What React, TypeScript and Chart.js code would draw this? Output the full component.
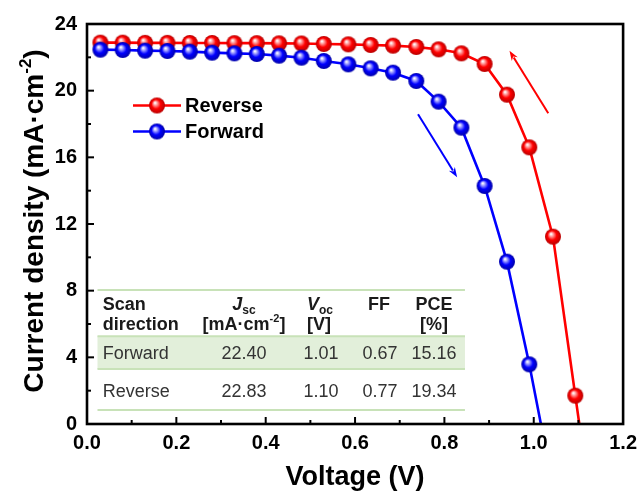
import React, { useEffect, useRef } from "react";
import { Chart, registerables } from "chart.js";

Chart.register(...registerables);

// ---------- data ----------
const reverseVoltage = [0.03, 0.08, 0.13, 0.18, 0.23, 0.28, 0.33, 0.38, 0.43, 0.48, 0.53, 0.585, 0.635, 0.685, 0.737, 0.787, 0.838, 0.89, 0.94, 0.99, 1.043, 1.093, 1.102];
const reverseCurrent = [22.88, 22.88, 22.87, 22.87, 22.86, 22.86, 22.85, 22.85, 22.84, 22.83, 22.8, 22.78, 22.74, 22.7, 22.62, 22.48, 22.24, 21.6, 19.76, 16.6, 11.24, 1.7, 0];
const forwardVoltage = [0.03, 0.08, 0.13, 0.18, 0.23, 0.28, 0.33, 0.38, 0.43, 0.48, 0.53, 0.585, 0.635, 0.685, 0.737, 0.787, 0.838, 0.89, 0.94, 0.99, 1.016];
const forwardCurrent = [22.46, 22.44, 22.4, 22.38, 22.34, 22.28, 22.24, 22.2, 22.1, 21.98, 21.78, 21.58, 21.34, 21.08, 20.58, 19.34, 17.78, 14.28, 9.74, 3.58, 0];

const seriesNames = ["Reverse", "Forward"];
const xTickLabels = ["0.0", "0.2", "0.4", "0.6", "0.8", "1.0", "1.2"];
const yTickLabels = ["0", "4", "8", "12", "16", "20", "24"];

const tableRows = [
  ["Forward", "22.40", "1.01", "0.67", "15.16"],
  ["Reverse", "22.83", "1.10", "0.77", "19.34"],
];

// arrows in data units: [x0, y0, x1, y1] (head at x1,y1)
const reverseArrow = [1.0325, 18.64, 0.9457, 22.4];
const forwardArrow = [0.741, 18.58, 0.8285, 14.8];

const FONT = "'Liberation Sans', Arial, Helvetica, sans-serif";
const RED = "#ff0000";
const BLUE = "#0000ff";

function makeSphere(base: string, light: string, dark: string, r: number) {
  const c = document.createElement("canvas");
  const s = Math.ceil(r * 2) + 2;
  c.width = s;
  c.height = s;
  const g = c.getContext("2d")!;
  const cx = s / 2, cy = s / 2;
  const grad = g.createRadialGradient(cx - r * 0.25, cy - r * 0.35, r * 0.05, cx, cy, r);
  grad.addColorStop(0, "#ffffff");
  grad.addColorStop(0.22, light);
  grad.addColorStop(0.55, base);
  grad.addColorStop(1, dark);
  g.fillStyle = grad;
  g.beginPath();
  g.arc(cx, cy, r, 0, Math.PI * 2);
  g.fill();
  return c;
}

type Run = { t: string; f: string; dy?: number };
function drawRuns(ctx: CanvasRenderingContext2D, runs: Run[], x: number, y: number, align: "left" | "center") {
  let total = 0;
  const ws = runs.map((r) => {
    ctx.font = r.f;
    const w = ctx.measureText(r.t).width;
    total += w;
    return w;
  });
  let cx = align === "center" ? x - total / 2 : x;
  runs.forEach((r, i) => {
    ctx.font = r.f;
    ctx.fillText(r.t, cx, y + (r.dy || 0));
    cx += ws[i];
  });
}

function drawArrow(ctx: CanvasRenderingContext2D, x0: number, y0: number, x1: number, y1: number, color: string) {
  const ang = Math.atan2(y1 - y0, x1 - x0);
  const hl = 10, hw = 3.5;
  ctx.save();
  ctx.strokeStyle = color;
  ctx.fillStyle = color;
  ctx.lineWidth = 2;
  ctx.beginPath();
  ctx.moveTo(x0, y0);
  ctx.lineTo(x1 - Math.cos(ang) * hl * 0.8, y1 - Math.sin(ang) * hl * 0.8);
  ctx.stroke();
  ctx.beginPath();
  ctx.moveTo(x1, y1);
  ctx.lineTo(x1 - Math.cos(ang) * hl - Math.sin(ang) * hw, y1 - Math.sin(ang) * hl + Math.cos(ang) * hw);
  ctx.lineTo(x1 - Math.cos(ang) * hl * 0.7, y1 - Math.sin(ang) * hl * 0.7);
  ctx.lineTo(x1 - Math.cos(ang) * hl + Math.sin(ang) * hw, y1 - Math.sin(ang) * hl - Math.cos(ang) * hw);
  ctx.closePath();
  ctx.fill();
  ctx.restore();
}

export default function App() {
  const ref = useRef<HTMLCanvasElement | null>(null);

  useEffect(() => {
    if (!ref.current) return;
    const redBall = makeSphere(RED, "#ff9a9a", "#b80000", 8);
    const blueBall = makeSphere(BLUE, "#9a9aff", "#0000a8", 8);

    const decor = {
      id: "decor",
      beforeDatasetsDraw(chart: any) {
        const ctx: CanvasRenderingContext2D = chart.ctx;
        const xs = chart.scales.x, ys = chart.scales.y;
        const L = xs.getPixelForValue(0.0235), R = xs.getPixelForValue(0.846);
        const yTop = ys.getPixelForValue(8.04);
        const bandTop = ys.getPixelForValue(5.27);
        const bandBot = ys.getPixelForValue(3.3);
        const yBot = ys.getPixelForValue(0.84);
        ctx.save();
        ctx.fillStyle = "#e2efda";
        ctx.fillRect(L, bandTop, R - L, bandBot - bandTop);
        ctx.strokeStyle = "#c8e2b8";
        ctx.lineWidth = 2;
        [yTop, bandTop, bandBot, yBot].forEach((yy) => {
          ctx.beginPath();
          ctx.moveTo(L, yy);
          ctx.lineTo(R, yy);
          ctx.stroke();
        });
        const bold = `bold 18px ${FONT}`;
        const boldIt = `italic bold 18px ${FONT}`;
        const sub = `bold 12px ${FONT}`;
        const sup = `bold 11px ${FONT}`;
        const reg = `18px ${FONT}`;
        ctx.textBaseline = "alphabetic";
        ctx.fillStyle = "#1a1a1a";
        const colScan = 102.7;
        const colJ = 244, colV = 307, colVval = 321, colFF = 379, colFFval = 380, colPCE = 434;
        const h1 = 310, h2 = 330;
        drawRuns(ctx, [{ t: "Scan", f: bold }], colScan, h1, "left");
        drawRuns(ctx, [{ t: "direction", f: bold }], colScan, h2, "left");
        drawRuns(ctx, [{ t: "J", f: boldIt }, { t: "sc", f: sub, dy: 4 }], colJ, h1, "center");
        drawRuns(ctx, [{ t: "[mA·cm", f: bold }, { t: "-2", f: sup, dy: -8 }, { t: "]", f: bold }], colJ, h2, "center");
        drawRuns(ctx, [{ t: "V", f: boldIt }, { t: "oc", f: sub, dy: 4 }], colV, h1, "left");
        drawRuns(ctx, [{ t: "[V]", f: bold }], colV, h2, "left");
        drawRuns(ctx, [{ t: "FF", f: bold }], colFF, h1, "center");
        drawRuns(ctx, [{ t: "PCE", f: bold }], colPCE, h1, "center");
        drawRuns(ctx, [{ t: "[%]", f: bold }], colPCE, h2, "center");
        ctx.fillStyle = "#333333";
        const rowBase = [359, 396.5];
        tableRows.forEach((row, i) => {
          const yb = rowBase[i];
          drawRuns(ctx, [{ t: row[0], f: reg }], colScan, yb, "left");
          drawRuns(ctx, [{ t: row[1], f: reg }], colJ, yb, "center");
          drawRuns(ctx, [{ t: row[2], f: reg }], colVval, yb, "center");
          drawRuns(ctx, [{ t: row[3], f: reg }], colFFval, yb, "center");
          drawRuns(ctx, [{ t: row[4], f: reg }], colPCE, yb, "center");
        });
        ctx.restore();
      },
      afterDatasetsDraw(chart: any) {
        const ctx: CanvasRenderingContext2D = chart.ctx;
        const a = chart.chartArea;
        const xs = chart.scales.x, ys = chart.scales.y;
        ctx.save();
        // inward ticks
        ctx.strokeStyle = "#000";
        ctx.lineWidth = 2;
        for (let i = 1; i < 12; i++) {
          const v = i / 10;
          const px = xs.getPixelForValue(v);
          const len = i % 2 === 0 ? 7 : 4;
          ctx.beginPath();
          ctx.moveTo(px, a.bottom);
          ctx.lineTo(px, a.bottom - len);
          ctx.stroke();
        }
        for (let v = 2; v < 24; v += 2) {
          const py = ys.getPixelForValue(v);
          const len = v % 4 === 0 ? 7 : 4;
          ctx.beginPath();
          ctx.moveTo(a.left, py);
          ctx.lineTo(a.left + len, py);
          ctx.stroke();
        }
        // frame
        ctx.lineWidth = 2.6;
        ctx.strokeRect(a.left, a.top, a.right - a.left, a.bottom - a.top);

        // arrows
        drawArrow(ctx, xs.getPixelForValue(reverseArrow[0]), ys.getPixelForValue(reverseArrow[1]), xs.getPixelForValue(reverseArrow[2]), ys.getPixelForValue(reverseArrow[3]), RED);
        drawArrow(ctx, xs.getPixelForValue(forwardArrow[0]), ys.getPixelForValue(forwardArrow[1]), xs.getPixelForValue(forwardArrow[2]), ys.getPixelForValue(forwardArrow[3]), BLUE);

        // legend
        const legendItems = [
          { name: seriesNames[0], color: RED, ball: redBall, y: 105.5 },
          { name: seriesNames[1], color: BLUE, ball: blueBall, y: 131.5 },
        ];
        legendItems.forEach((it) => {
          ctx.strokeStyle = it.color;
          ctx.lineWidth = 2.5;
          ctx.beginPath();
          ctx.moveTo(133, it.y);
          ctx.lineTo(181, it.y);
          ctx.stroke();
          ctx.drawImage(it.ball, 157 - it.ball.width / 2, it.y - it.ball.height / 2);
          ctx.fillStyle = "#000";
          ctx.font = `bold 20px ${FONT}`;
          ctx.textBaseline = "middle";
          ctx.textAlign = "left";
          ctx.fillText(it.name, 185, it.y + 1);
        });

        // y axis title
        ctx.save();
        ctx.translate(43, (a.top + a.bottom) / 2 - 3);
        ctx.rotate(-Math.PI / 2);
        ctx.fillStyle = "#000";
        ctx.textBaseline = "alphabetic";
        ctx.textAlign = "left";
        drawRuns(ctx, [
          { t: "Current density (mA·cm", f: `bold 28px ${FONT}` },
          { t: "-2", f: `bold 17px ${FONT}`, dy: -12 },
          { t: ")", f: `bold 28px ${FONT}` },
        ], 0, 0, "center");
        ctx.restore();
        ctx.restore();
      },
    };

    const pr = (n: number) => Array.from({ length: n }, (_, i) => (i === n - 1 ? 0 : 8));

    const chart = new Chart(ref.current, {
      type: "line",
      data: {
        datasets: [
          {
            label: seriesNames[1],
            data: forwardVoltage.map((x, i) => ({ x, y: forwardCurrent[i] })),
            borderColor: BLUE,
            borderWidth: 2.6,
            pointStyle: blueBall as any,
            pointRadius: pr(forwardVoltage.length),
            tension: 0,
            fill: false,
          },
          {
            label: seriesNames[0],
            data: reverseVoltage.map((x, i) => ({ x, y: reverseCurrent[i] })),
            borderColor: RED,
            borderWidth: 2.6,
            pointStyle: redBall as any,
            pointRadius: pr(reverseVoltage.length),
            tension: 0,
            fill: false,
          },
        ],
      },
      options: {
        animation: false,
        responsive: false,
        devicePixelRatio: 1,
        layout: { padding: { left: 0, top: 24, right: 17, bottom: 0 } },
        plugins: { legend: { display: false }, tooltip: { enabled: false } },
        scales: {
          x: {
            type: "linear",
            min: 0,
            max: 1.2,
            afterFit: (s: any) => { s.height = 70; },
            grid: { display: false, drawTicks: false },
            border: { display: false },
            ticks: {
              stepSize: 0.2,
              padding: 7,
              color: "#000",
              maxRotation: 0,
              autoSkip: false,
              font: { family: FONT, size: 20, weight: "bold" },
              callback: (_v: any, i: number) => xTickLabels[i],
            },
            title: {
              display: true,
              text: "Voltage (V)",
              color: "#000",
              font: { family: FONT, size: 27, weight: "bold" },
              padding: { top: 0, bottom: 0 },
            },
          },
          y: {
            type: "linear",
            min: 0,
            max: 24,
            afterFit: (s: any) => { s.width = 87; },
            grid: { display: false, drawTicks: false },
            border: { display: false },
            ticks: {
              stepSize: 4,
              padding: 10,
              color: "#000",
              font: { family: FONT, size: 20, weight: "bold" },
              callback: (_v: any, i: number) => yTickLabels[i],
            },
          },
        },
      },
      plugins: [decor],
    } as any);
    return () => chart.destroy();
  }, []);

  return (
    <div style={{ position: "absolute", left: 0, top: 0, width: 644, height: 494, background: "#fff" }}>
      <canvas ref={ref} width={644} height={494} style={{ display: "block" }} />
    </div>
  );
}
